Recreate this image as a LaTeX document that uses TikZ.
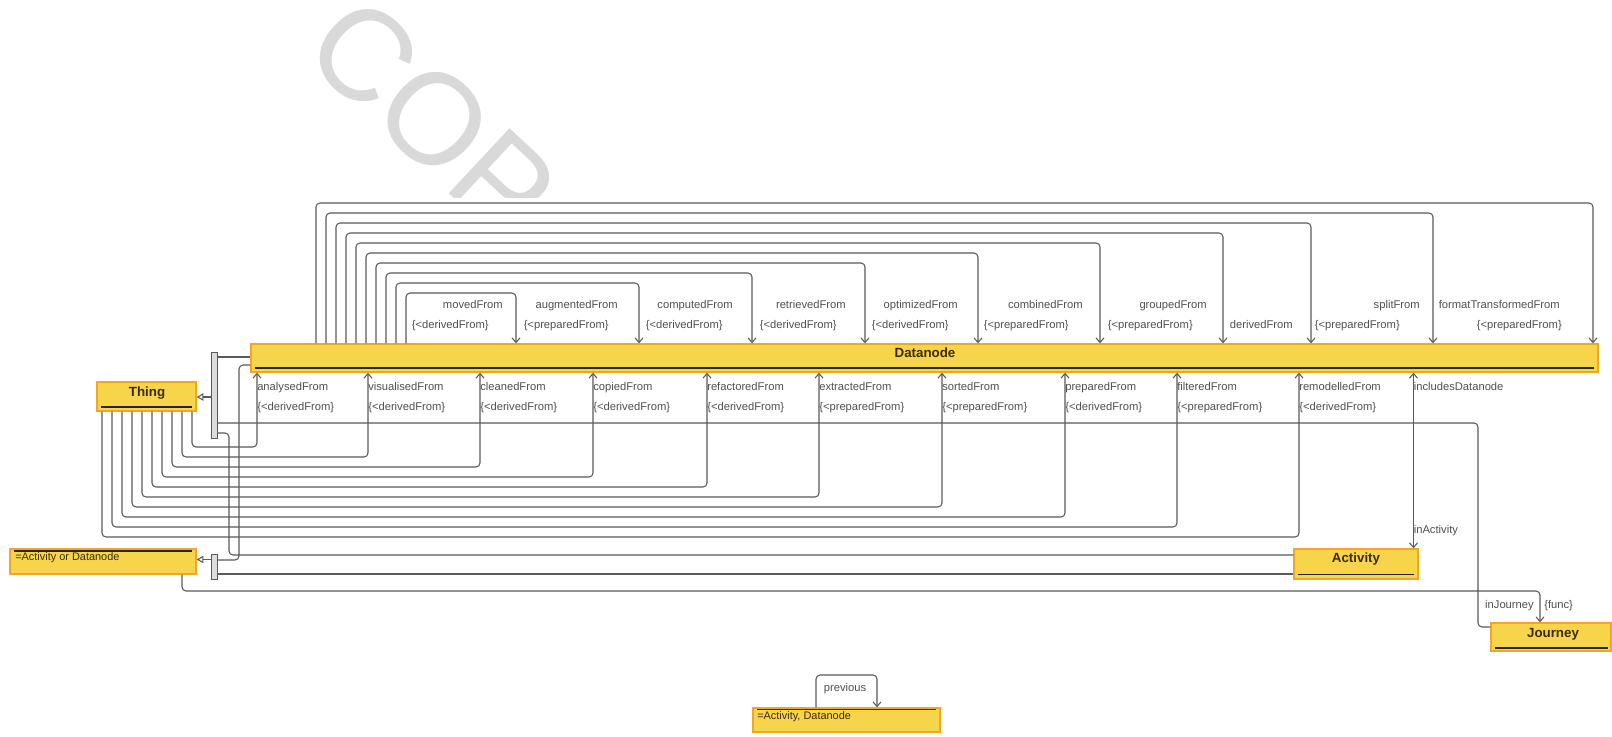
\documentclass[tikz,border=0pt]{standalone}
\usepackage{fontspec}
\setmainfont{Liberation Sans}
\usetikzlibrary{arrows.meta,fit}
\definecolor{boxfill}{HTML}{F6D54B}
\definecolor{boxline}{HTML}{F5A524}
\definecolor{wirecol}{HTML}{5A5A5A}
\definecolor{lblcol}{HTML}{505050}
\definecolor{ttlcol}{HTML}{3E2A05}
\definecolor{markcol}{HTML}{D9D9D9}
\definecolor{barfill}{HTML}{DCDCDC}
\tikzset{
  cls/.style={draw=boxline, fill=boxfill, line width=1pt, inner sep=0pt},
  title/.style={font=\bfseries\fontsize{10}{12}\selectfont, text=ttlcol, inner sep=0pt, anchor=base},
  plaintxt/.style={font=\fontsize{8.2}{10}\selectfont, text=ttlcol, inner sep=0pt, anchor=base west},
  uline/.style={draw=black!85, line width=1.1pt},
  wire/.style={draw=wirecol, line width=0.8pt, rounded corners=3pt},
  arr/.style={wire, -{Straight Barb[length=3.5pt,width=6pt]}},
  biarr/.style={wire, {Straight Barb[length=3.5pt,width=6pt]}-{Straight Barb[length=3.5pt,width=6pt]}},
  gen/.style={wire, -{Triangle[open,length=5pt,width=5.5pt]}},
  lab/.style={font=\fontsize{8.4}{10}\selectfont, text=lblcol, inner sep=0pt},
  bar/.style={draw=wirecol, fill=barfill, line width=0.6pt, inner sep=0pt},
}
\begin{document}
\begin{tikzpicture}[x=0.75pt, y=-0.75pt]
\useasboundingbox (0,0) rectangle (1612,736);
\fill[white] (0,0) rectangle (1612,736);

% watermark above the diagram
\begin{scope}
  \clip (0,0) rectangle (1612,197);
  \node[font=\fontsize{97}{97}\selectfont, text=markcol, rotate=-43, anchor=base west, inner sep=0pt] (wm) at (299,54) {COP};
\end{scope}

% classes
\node[cls, fit={(251,344) (1598,372)}] (dn) {};
\node[title] (dnT) at (925,357.5) {Datanode};
\draw[uline] (255,368) -- (1594,368);

\node[cls, fit={(97,382) (196,411)}] (th) {};
\node[title] (thT) at (147,396) {Thing};
\draw[uline] (101,407) -- (192,407);

\node[cls, fit={(10,549) (196,574)}] (aod) {};
\draw[uline] (14,551) -- (192,551);
\node[plaintxt] (aodT) at (15,560.7) {=Activity or Datanode};

\node[cls, fit={(1294,549) (1418,579)}] (act) {};
\node[title] (actT) at (1356,562.7) {Activity};
\draw[uline] (1298,574.5) -- (1414,574.5);

\node[cls, fit={(1491,623) (1611,651)}] (jr) {};
\node[title] (jrT) at (1553,637.3) {Journey};
\draw[uline] (1495,648) -- (1608,648);

\node[cls, fit={(753,708) (940,732)}] (ad) {};
\draw[uline] (757,709.5) -- (936,709.5);
\node[plaintxt] (adT) at (757,719.3) {=Activity, Datanode};

% generalization bars
\node[bar, fit={(211,352) (217,438)}] (bar1) {};
\node[bar, fit={(211,554) (217,579)}] (bar2) {};

% loops above Datanode
\foreach \k/\t in {0/1593,1/1433,2/1311,3/1223,4/1100,5/978,6/865,7/752,8/639,9/516} {
  \pgfmathsetmacro\xs{316+10*\k}
  \pgfmathsetmacro\ys{203+10*\k}
  \draw[arr] (\xs,0 |- dn.north) -- (\xs,\ys) -- (\t,\ys) -- (\t,0 |- dn.north);
}

% loops from Thing into Datanode
\foreach \j/\t in {0/1299,1/1177,2/1065,3/942,4/819,5/707,6/593,7/480,8/368,9/257} {
  \pgfmathsetmacro\xs{102+10*\j}
  \pgfmathsetmacro\ys{537-10*\j}
  \draw[arr] (\xs,0 |- th.south) -- (\xs,\ys) -- (\t,\ys) -- (\t,0 |- dn.south);
}

% labels of the upper loops
\foreach \i/\x/\s in {1/503/movedFrom, 2/618/augmentedFrom, 3/733/computedFrom,
    4/846/retrievedFrom, 5/958/optimizedFrom, 6/1083/combinedFrom,
    7/1207/groupedFrom, 8/1420/splitFrom, 9/1560/formatTransformedFrom}
  \node[lab, anchor=base east] (tn\i) at (\x,308.5) {\s};
\foreach \i/\x/\cc in {1/489/derived, 2/609/prepared, 3/723/derived,
    4/837/derived, 5/949/derived, 6/1069/prepared, 7/1193/prepared,
    8/1400/prepared, 9/1562/prepared}
  \node[lab, anchor=base east] (tc\i) at (\x,328) {\{<\cc From\}};
\node[lab, anchor=base east] (tdv) at (1293,328) {derivedFrom};

% labels of the lower loops
\foreach \i/\x/\s/\cc in {1/257/analysedFrom/derived, 2/368/visualisedFrom/derived,
    3/480/cleanedFrom/derived, 4/593/copiedFrom/derived, 5/707/refactoredFrom/derived,
    6/819/extractedFrom/prepared, 7/942/sortedFrom/prepared, 8/1065/preparedFrom/derived,
    9/1177/filteredFrom/prepared, 10/1299/remodelledFrom/derived} {
  \node[lab, anchor=base west] (bn\i) at (\x,390) {\s};
  \node[lab, anchor=base west] (bc\i) at (\x,410) {\{<\cc From\}};
}

% Activity / Datanode association
\draw[biarr] (1413.5,0 |- dn.south) -- (1413.5,0 |- act.north);
\node[lab, anchor=base west] (incl) at (1413.5,390) {includesDatanode};
\node[lab, anchor=base west] (inact) at (1413.5,533.3) {inActivity};

% generalization to Thing
\draw[wire] (dn.west |- 0,357) -- (bar1.east |- 0,357);
\draw[wire] (jr.west |- 0,627) -- (1478,627) -- (1478,423) -- (bar1.east |- 0,423);
\draw[wire] (act.west |- 0,555) -- (229,555) -- (229,433) -- (bar1.east |- 0,433);
\draw[gen] (bar1.west |- 0,397) -- (th.east |- 0,397);

% generalization to the union class
\draw[wire] (dn.west |- 0,365) -- (239,365) -- (239,560) -- (bar2.east |- 0,560);
\draw[wire] (act.west |- 0,574) -- (bar2.east |- 0,574);
\draw[gen] (bar2.west |- 0,559.5) -- (aod.east |- 0,559.5);

% inJourney
\draw[arr] (182,0 |- aod.south) -- (182,591) -- (1540,591) -- (1540,0 |- jr.north);
\node[lab, anchor=base east] (injr) at (1534,608.3) {inJourney};
\node[lab, anchor=base west] (func) at (1544,608.3) {\{func\}};

% previous
\draw[arr] (816,0 |- ad.north) -- (816,675) -- (877,675) -- (877,0 |- ad.north);
\node[lab, anchor=base] (prev) at (845,691.5) {previous};
\end{tikzpicture}
\end{document}
